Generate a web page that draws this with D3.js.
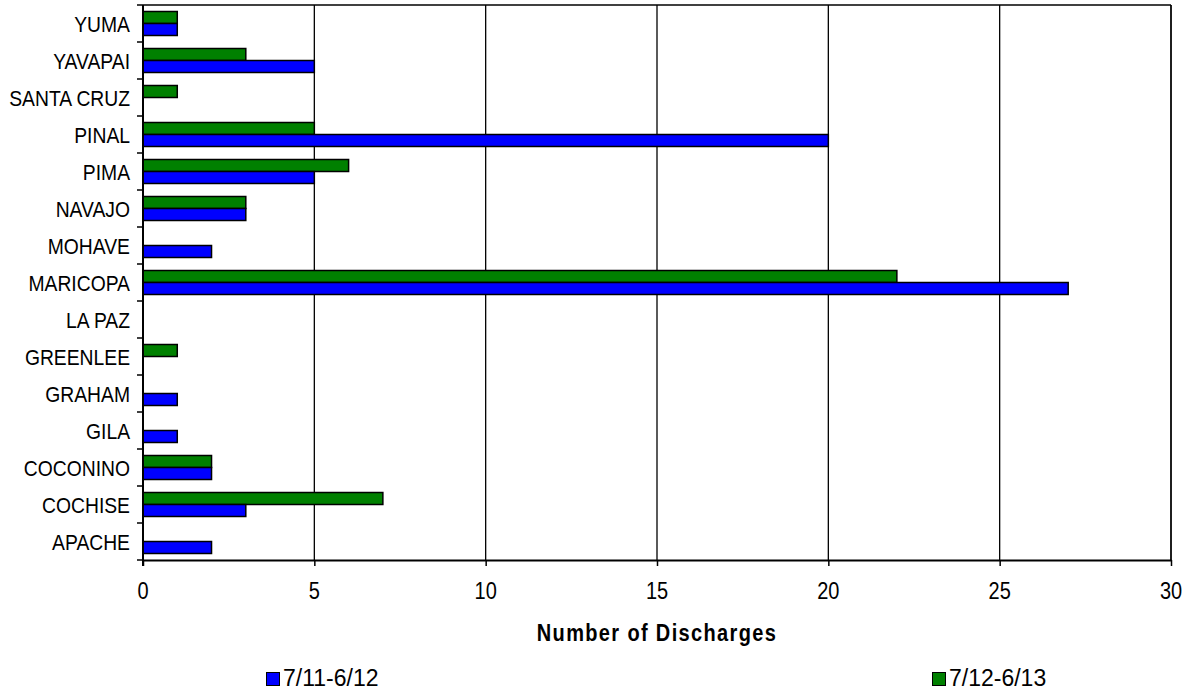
<!DOCTYPE html>
<html>
<head>
<meta charset="utf-8">
<script src="https://cdn.jsdelivr.net/npm/d3@7"></script>
<style>
  html, body { margin: 0; padding: 0; background: #fff; }
  svg { display: block; font-family: "Liberation Sans", Arial, sans-serif; }
</style>
</head>
<body>
<svg id="chart" width="1186" height="693"></svg>
<script>
// Counties, listed top to bottom
const counties = ["YUMA", "YAVAPAI", "SANTA CRUZ", "PINAL", "PIMA", "NAVAJO", "MOHAVE",
  "MARICOPA", "LA PAZ", "GREENLEE", "GRAHAM", "GILA", "COCONINO", "COCHISE", "APACHE"];
// Discharges per county, by period
const period1 = [1, 5, 0, 20, 5, 3, 2, 27, 0, 0, 1, 1, 2, 3, 2];   // 7/11-6/12
const period2 = [1, 3, 1, 5, 6, 3, 0, 22, 0, 1, 0, 0, 2, 7, 0];    // 7/12-6/13
const seriesNames = ["7/11-6/12", "7/12-6/13"];
const seriesColors = ["#0000FF", "#008000"];
const xTicks = [0, 5, 10, 15, 20, 25, 30];
const xTitle = "Number of Discharges";

const svg = d3.select("#chart");
const plotLeft = 143, plotRight = 1171, plotTop = 5, plotBottom = 560;

const x = d3.scaleLinear().domain([0, 30]).range([plotLeft, plotRight]);
const y = d3.scaleBand().domain(counties).range([plotTop, plotBottom]);
// inner scale: green bar above, blue bar below
const inner = d3.scaleBand().domain(["s2", "s1"]).range([0, 24]);
const groupOffset = (y.bandwidth() - 24) / 2;

// text drawn slightly taller than wide, anchored at its baseline
function tallText(g, tx, ty, str, size, anchor, sy, weight) {
  return g.append("text")
    .attr("transform", `translate(${tx},${ty}) scale(1,${sy})`)
    .attr("text-anchor", anchor)
    .attr("font-size", size)
    .attr("font-weight", weight || "normal")
    .attr("fill", "#000")
    .text(str);
}

// vertical gridlines
svg.append("g")
  .selectAll("line")
  .data(xTicks.slice(1))
  .join("line")
  .attr("x1", d => x(d)).attr("x2", d => x(d))
  .attr("y1", plotTop).attr("y2", plotBottom)
  .attr("stroke", "#000").attr("stroke-width", 1.3);

// top border
svg.append("line")
  .attr("x1", plotLeft).attr("x2", plotRight).attr("y1", plotTop).attr("y2", plotTop)
  .attr("stroke", "#000").attr("stroke-width", 1.3);

// bars
const rows = counties.map((c, i) => ({ c, s1: period1[i], s2: period2[i] }));
const barG = svg.append("g");
["s2", "s1"].forEach(key => {
  const color = key === "s1" ? seriesColors[0] : seriesColors[1];
  barG.selectAll(null)
    .data(rows.filter(r => r[key] > 0))
    .join("rect")
    .attr("x", x(0))
    .attr("y", d => y(d.c) + groupOffset + inner(key))
    .attr("width", d => x(d[key]) - x(0))
    .attr("height", inner.bandwidth())
    .attr("fill", color)
    .attr("stroke", "#000")
    .attr("stroke-width", 1.5);
});

// x axis (tick marks from the axis generator, labels drawn stretched)
const xAxis = svg.append("g")
  .attr("transform", `translate(0,${plotBottom})`)
  .call(d3.axisBottom(x).tickValues(xTicks).tickSize(6).tickFormat("").tickSizeOuter(0));
xAxis.select(".domain").attr("stroke", "#000").attr("stroke-width", 2);
xAxis.selectAll(".tick line").attr("stroke", "#000").attr("stroke-width", 1.5);
const xLabels = svg.append("g");
xTicks.forEach(t => tallText(xLabels, x(t), 599, String(t), 20, "middle", 1.17));

// y axis: ticks at category boundaries
const yAxisG = svg.append("g");
yAxisG.append("line")
  .attr("x1", plotLeft).attr("x2", plotLeft).attr("y1", plotTop).attr("y2", plotBottom + 6)
  .attr("stroke", "#000").attr("stroke-width", 2);
const boundaries = counties.map(c => y(c)).concat([plotBottom]);
yAxisG.selectAll("line.tk")
  .data(boundaries)
  .join("line")
  .attr("class", "tk")
  .attr("x1", plotLeft - 6).attr("x2", plotLeft)
  .attr("y1", d => d).attr("y2", d => d)
  .attr("stroke", "#000").attr("stroke-width", 1.5);
counties.forEach(c => {
  tallText(yAxisG, 130, y(c) + y.bandwidth() / 2 + 8.5, c, 19.3, "end", 1.17);
});

// right border
svg.append("line")
  .attr("x1", plotRight).attr("x2", plotRight).attr("y1", plotTop).attr("y2", plotBottom)
  .attr("stroke", "#000").attr("stroke-width", 1.3);

// axis title
tallText(svg, (plotLeft + plotRight) / 2, 641, xTitle, 20, "middle", 1.15, "bold")
  .attr("letter-spacing", 1.35);

// legend
const legendX = [266, 932];
const legend = svg.append("g");
seriesNames.forEach((name, i) => {
  legend.append("rect")
    .attr("x", legendX[i] + 0.5).attr("y", 672.5)
    .attr("width", 13).attr("height", 13)
    .attr("fill", seriesColors[i]).attr("stroke", "#000").attr("stroke-width", 1);
  legend.append("text")
    .attr("x", legendX[i] + 17).attr("y", 686)
    .attr("font-size", 23)
    .attr("fill", "#000")
    .text(name);
});
</script>
</body>
</html>
